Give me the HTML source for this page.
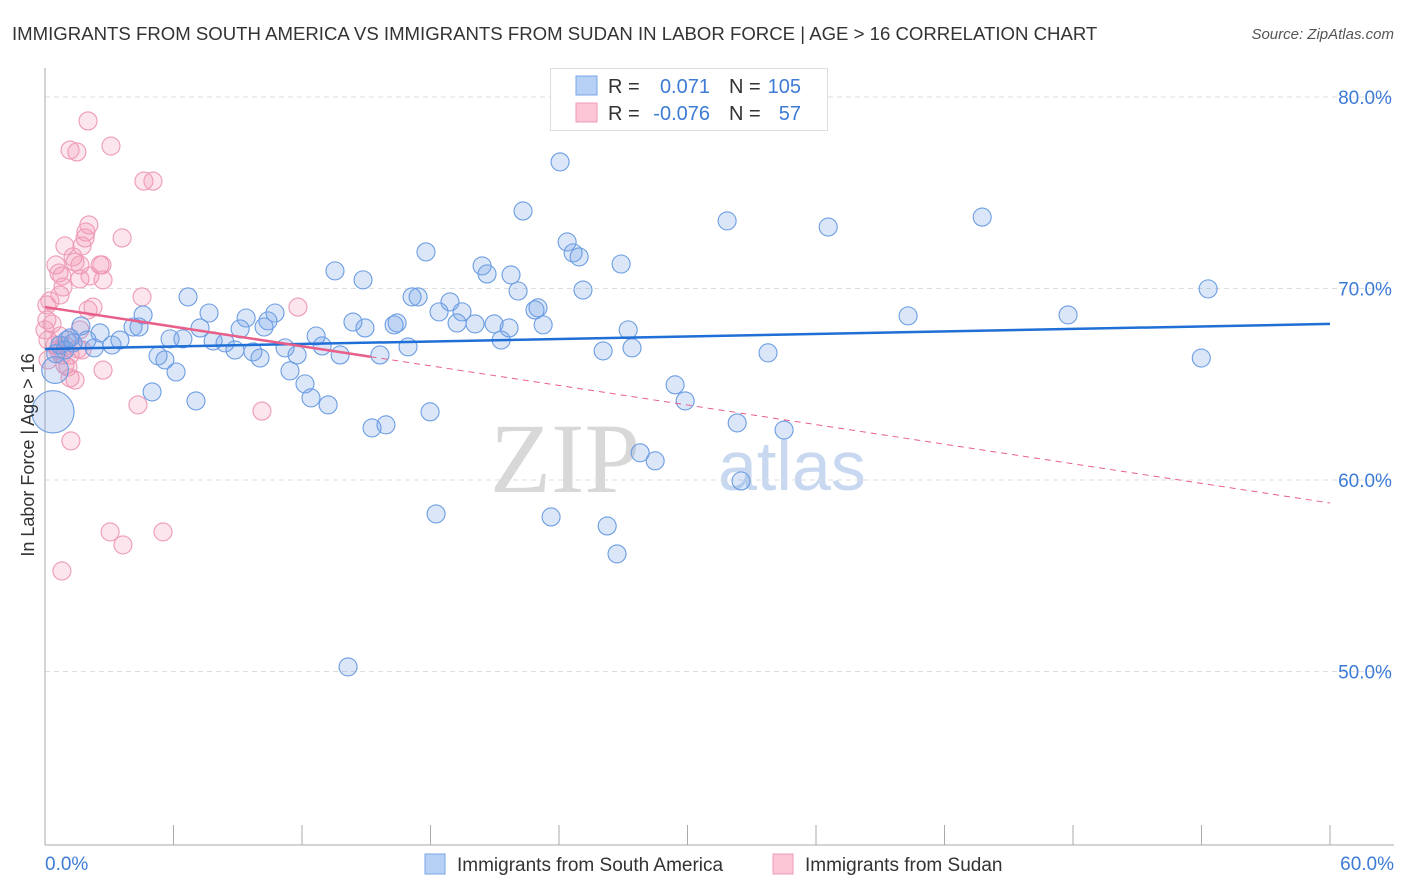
<!DOCTYPE html>
<html><head><meta charset="utf-8">
<style>
body{margin:0;background:#fff;font-family:"Liberation Sans",sans-serif;}
svg{display:block}
</style></head>
<body>
<svg id="chart" width="1406" height="892" xmlns="http://www.w3.org/2000/svg">
<text x="12" y="40" font-size="18.6" fill="#333">IMMIGRANTS FROM SOUTH AMERICA VS IMMIGRANTS FROM SUDAN IN LABOR FORCE | AGE &gt; 16 CORRELATION CHART</text>
<text x="1394" y="39" font-size="15" fill="#555" text-anchor="end" font-style="italic">Source: ZipAtlas.com</text>
<text x="640" y="492" font-size="100" fill="#d8d8d8" text-anchor="end" font-family="Liberation Serif">ZIP</text>
<text x="718" y="490" font-size="70" fill="#c8d8f0">atlas</text>
<g id="grid"></g>
<g id="axes"></g>
<g id="pts"></g>
<g id="lines"></g>
<text transform="translate(34,455) rotate(-90)" font-size="18" fill="#333" text-anchor="middle">In Labor Force | Age &gt; 16</text>
<g>
<rect x="550.5" y="68.5" width="277" height="62" fill="#fff" stroke="#ddd"/>
<rect x="576" y="76" width="21" height="19" fill="#b7d0f5" stroke="#7aa6e8"/>
<rect x="576" y="103" width="21" height="19" fill="#fcc6d6" stroke="#f09ab4"/>
<text x="608" y="93" font-size="20" fill="#333">R =</text>
<text x="710" y="93" font-size="20" fill="#3d7bd6" text-anchor="end">0.071</text>
<text x="729" y="93" font-size="20" fill="#333">N =</text>
<text x="801" y="93" font-size="20" fill="#3d7bd6" text-anchor="end">105</text>
<text x="608" y="120" font-size="20" fill="#333">R =</text>
<text x="710" y="120" font-size="20" fill="#3d7bd6" text-anchor="end">-0.076</text>
<text x="729" y="120" font-size="20" fill="#333">N =</text>
<text x="801" y="120" font-size="20" fill="#3d7bd6" text-anchor="end">57</text>
</g>
<g>
<rect x="425" y="854" width="20" height="20" fill="#b7d0f5" stroke="#7aa6e8"/>
<text x="457" y="871" font-size="19" fill="#333">Immigrants from South America</text>
<rect x="773" y="854" width="20" height="20" fill="#fcc6d6" stroke="#f09ab4"/>
<text x="805" y="871" font-size="19" fill="#333">Immigrants from Sudan</text>
</g>
</svg>
<script>
const blueX=[24.05,22.32,31.85,36.57,43.76,24.38,24.66,24.94,17.79,26.9,20.41,20.64,21.76,13.54,14.85,54.31,25.12,22.09,6.68,17.14,17.42,18.91,18.4,19.47,22.88,23.02,40.3,47.77,7.66,9.39,10.74,10.41,4.58,14.38,14.94,16.44,16.3,19.24,20.08,20.97,21.67,23.26,27.23,1.68,4.11,4.39,7.24,9.11,10.23,12.66,21.3,2.57,3.5,5.84,6.44,7.85,8.41,1.96,3.13,1.03,1.31,8.87,9.71,11.21,11.77,12.94,13.78,15.64,16.95,26.06,27.41,33.76,5.28,5.6,10.04,53.99,6.12,11.44,12.14,29.42,5.0,12.42,7.05,13.22,29.89,17.98,32.32,34.51,15.27,15.92,27.79,28.49,32.5,18.26,23.63,26.25,26.71,14.15,0.37,0.47,0.7,0.93,1.17,2.3,0.5];
const blueY=[76.61,74.05,73.53,73.21,73.73,72.43,71.86,71.65,71.91,71.28,71.18,70.76,70.71,70.92,70.45,69.98,69.92,69.87,69.56,69.56,69.56,69.3,68.78,68.78,68.88,68.99,68.57,68.62,68.72,68.46,68.72,68.31,68.62,68.25,67.94,68.2,68.1,68.2,68.15,68.15,67.94,68.1,67.84,68.04,67.99,67.99,67.94,67.89,67.99,67.52,67.31,67.68,67.31,67.37,67.37,67.26,67.16,67.31,67.05,67.31,67.16,66.79,66.69,66.9,66.53,67.0,66.53,66.53,66.95,66.74,66.9,66.64,66.48,66.27,66.37,66.37,65.64,65.7,65.02,64.97,64.6,64.29,64.13,63.92,64.13,63.56,62.98,62.61,62.72,62.88,61.42,61.0,59.95,58.23,58.07,57.6,56.14,50.24,63.56,65.74,67.05,66.79,67.42,66.9,66.6];
const blueW=[1,1,1,1,1,1,1,1,1,1,1,1,1,1,1,1,1,1,1,1,1,1,1,1,1,1,1,1,1,1,1,1,1,1,1,1,1,1,1,1,1,1,1,1,1,1,1,1,1,1,1,1,1,1,1,1,1,1,1,1,1,1,1,1,1,1,1,1,1,1,1,1,1,1,1,1,1,1,1,1,1,1,1,1,1,1,1,1,1,1,1,1,1,1,1,1,1,1,5.5,2.2,1,1,1,1,1];
const pinkX=[2.01,1.17,1.49,3.08,4.62,5.04,2.05,1.91,1.87,1.73,3.6,0.93,0.51,1.31,1.4,2.57,0.65,1.63,2.66,1.63,2.1,2.71,0.79,0.7,0.84,0.09,0.23,2.24,2.01,4.53,11.81,0.09,0.33,1.63,0,0.14,0.47,0.98,1.54,0.79,1.17,1.73,0.14,0.93,1.17,1.4,2.71,1.07,4.34,10.13,1.21,3.04,3.64,5.51,0.79,0.61,0.7];
const pinkY=[78.75,77.23,77.13,77.44,75.61,75.61,73.32,72.95,72.64,72.22,72.64,72.22,71.23,71.65,71.38,71.23,70.81,71.23,71.23,70.5,70.65,70.45,70.65,69.66,70.08,69.14,69.35,69.03,68.88,69.56,69.03,68.36,68.15,67.84,67.84,67.31,67.05,67.0,66.84,66.53,66.53,66.79,66.27,66.0,65.33,65.22,65.74,65.9,63.92,63.6,62.04,57.29,56.61,57.29,55.25,66.79,67.52];
const blueTrend=[66.84,68.15];
const pinkTrend=[69.03,58.8];
const pinkSolidEnd=15.2;
const yTicks=[80,70,60,50];
const xTickVals=[0,6,12,18,24,30,36,42,48,54,60];
const xEndLabels=["0.0%","60.0%"];

const NS="http://www.w3.org/2000/svg";
const X0=45,X1=1330,Y80=97,PXY=19.15;
const sx=v=>X0+(v/60)*(X1-X0);
const sy=v=>Y80+(80-v)*PXY;
function mk(tag,attrs,parent){const e=document.createElementNS(NS,tag);for(const k in attrs)e.setAttribute(k,attrs[k]);parent.appendChild(e);return e;}
const grid=document.getElementById('grid'),axes=document.getElementById('axes'),pts=document.getElementById('pts'),lines=document.getElementById('lines');
yTicks.forEach(t=>{
  const l=mk('line',{x1:X0,x2:1394,y1:sy(t),y2:sy(t),stroke:'#ddd','stroke-dasharray':'5,4'},grid);
  
  
  const tx=mk('text',{x:1365,y:sy(t)+7,'font-size':19,fill:'#3d7bd6','text-anchor':'middle'},grid);
  tx.textContent=t.toFixed(1)+'%';
  
  
});
const ya=mk('line',{x1:X0,x2:X0,y1:68,y2:845,stroke:'#aaa'},axes);


const xa=mk('line',{x1:X0,x2:1394,y1:845,y2:845,stroke:'#aaa'},axes);


xTickVals.forEach(v=>{
  const t=mk('line',{x1:sx(v),x2:sx(v),y1:825,y2:845,stroke:'#aaa'},axes);
  
  
});
[[0,'start',45],[60,'end',1394]].forEach((d,i)=>{
  const t=mk('text',{x:d[2],y:870,'font-size':19,fill:'#3d7bd6','text-anchor':d[1]},axes);
  t.textContent=xEndLabels[i];
  
  
});
pinkX.forEach((x,i)=>{
  const c=mk('circle',{cx:sx(x),cy:sy(pinkY[i]),r:9,fill:'rgba(244,150,180,0.25)',stroke:'#ee9ab6','stroke-width':1.1},pts);
  
  
});
blueX.forEach((x,i)=>{
  const c=mk('circle',{cx:sx(x),cy:sy(blueY[i]),r:9*Math.sqrt(blueW[i]),fill:'rgba(110,160,230,0.25)',stroke:'#6c9de2','stroke-width':1.1},pts);
  
  
});
const bl=mk('line',{x1:sx(0),y1:sy(blueTrend[0]),x2:sx(60),y2:sy(blueTrend[1]),stroke:'#1f6fd6','stroke-width':2.5},lines);


const py=v=>pinkTrend[0]+(pinkTrend[1]-pinkTrend[0])*v/60;
const pl=mk('line',{x1:sx(0),y1:sy(py(0)),x2:sx(pinkSolidEnd),y2:sy(py(pinkSolidEnd)),stroke:'#e8608a','stroke-width':2.5},lines);


const pd=mk('line',{x1:sx(pinkSolidEnd),y1:sy(py(pinkSolidEnd)),x2:sx(60),y2:sy(py(60)),stroke:'#e8608a','stroke-width':1,'stroke-dasharray':'6,5'},lines);


</script>
</body></html>
